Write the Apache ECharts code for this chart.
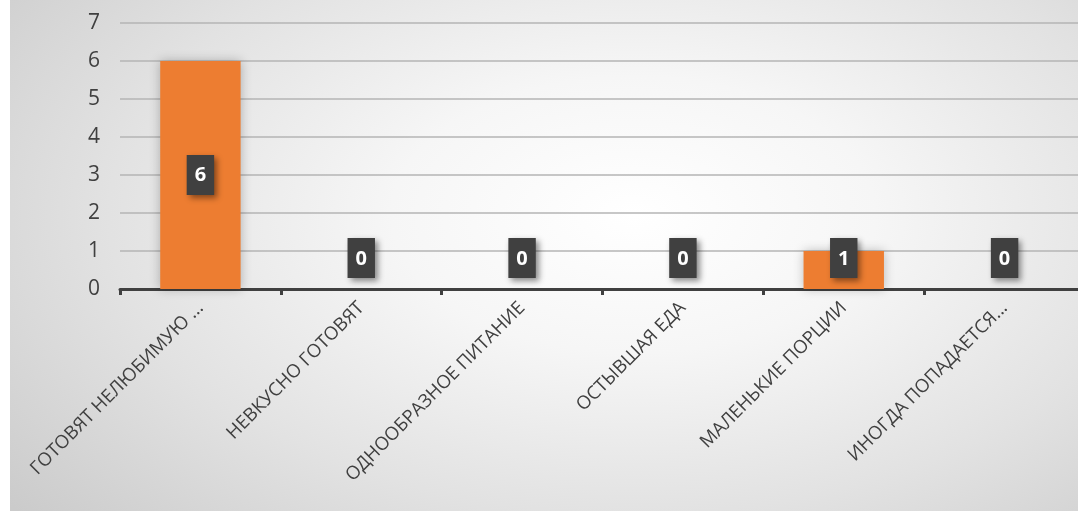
<!DOCTYPE html>
<html><head><meta charset="utf-8">
<script src="https://cdn.jsdelivr.net/npm/echarts@6/dist/echarts.min.js"></script>
<style>
html,body{margin:0;padding:0;background:#fff;overflow:hidden;width:1078px;height:511px;}
#c{position:absolute;left:10px;top:0;width:1075px;height:511px;
background:radial-gradient(ellipse 75% 90% at 58% 42%, #ffffff 0%, #f6f6f6 30%, #e2e2e2 65%, #cbcbcb 100%);}
</style></head>
<body><div id="c"></div>
<script>
const categories = ['ГОТОВЯТ НЕЛЮБИМУЮ ...', 'НЕВКУСНО ГОТОВЯТ', 'ОДНООБРАЗНОЕ ПИТАНИЕ', 'ОСТЫВШАЯ ЕДА', 'МАЛЕНЬКИЕ ПОРЦИИ', 'ИНОГДА ПОПАДАЕТСЯ...'];
const values = [6, 0, 0, 0, 1, 0];
const yTicks = {min: 0, max: 7, interval: 1};

const chart = echarts.init(document.getElementById('c'));
const labelBase = {
  show: true, color: '#fff', fontWeight: 'bold', fontSize: 20, lineHeight: 22, fontFamily: 'Open Sans',
  backgroundColor: '#404040', padding: [10, 8, 8, 8],
  shadowBlur: 6, shadowOffsetX: 3, shadowOffsetY: 3, shadowColor: 'rgba(0,0,0,0.45)'
};
chart.setOption({
  animation: false,
  grid: {left: 110, right: 0, top: 23, bottom: 222},
  xAxis: {
    type: 'category', data: categories,
    axisLine: {lineStyle: {color: '#404040', width: 3}},
    axisTick: {show: true, length: 6, lineStyle: {color: '#404040', width: 3}},
    axisLabel: {rotate: 45, color: '#404040', fontSize: 18.5, fontFamily: 'Open Sans', margin: 16, interval: 0}
  },
  yAxis: {
    type: 'value', min: yTicks.min, max: yTicks.max, interval: yTicks.interval,
    axisLine: {show: false}, axisTick: {show: false},
    axisLabel: {color: '#404040', fontSize: 21, fontFamily: 'Open Sans', margin: 20},
    splitLine: {lineStyle: {color: '#b4b4b4', width: 1.5}}
  },
  series: [{
    type: 'bar', barWidth: '50%',
    itemStyle: {color: '#ED7D31', shadowBlur: 10, shadowColor: 'rgba(0,0,0,0.25)'},
    data: values.map(v => ({
      value: v,
      label: v >= 3 ? Object.assign({}, labelBase, {position: 'inside'})
                   : Object.assign({}, labelBase, {position: 'insideBottom', distance: 11})
    }))
  }]
});
</script></body></html>
